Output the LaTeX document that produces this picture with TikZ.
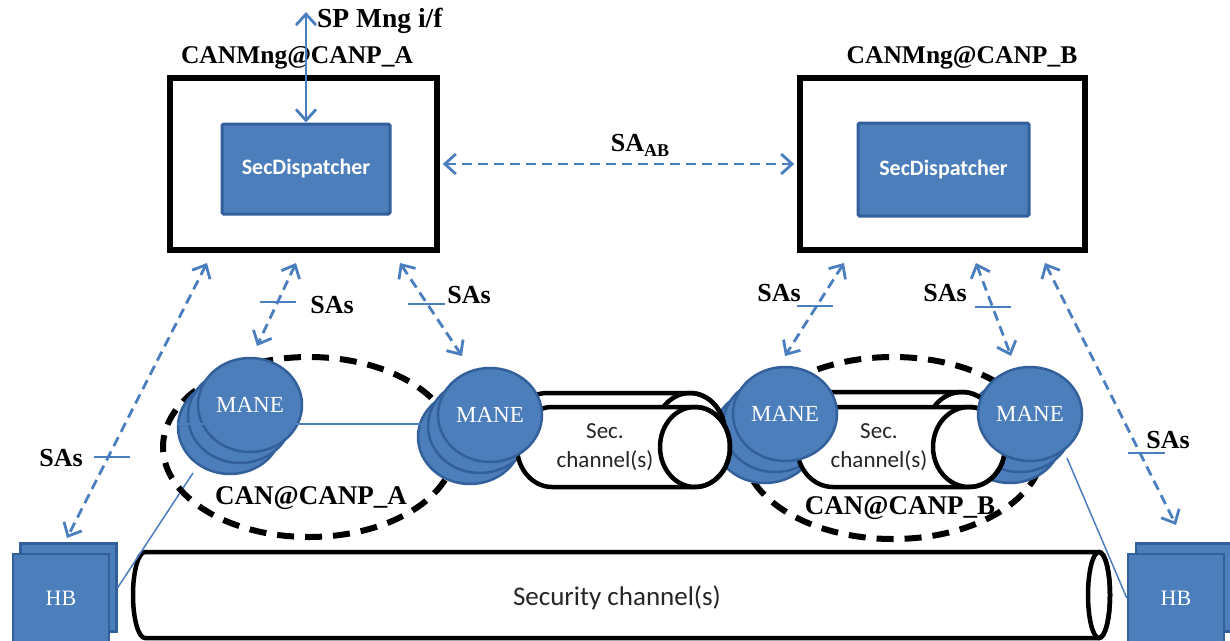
\documentclass[tikz,border=0pt]{standalone}
\usepackage{fontspec}
\setmainfont{Liberation Serif}
\newfontfamily\carl{Carlito}
\usetikzlibrary{arrows.meta,shapes.geometric}
\definecolor{bfill}{HTML}{4B7EBB}
\definecolor{bdraw}{HTML}{33609A}
\definecolor{aline}{HTML}{4A7EBE}
\begin{document}
\begin{tikzpicture}[x=1pt,y=-1pt,
  >={Straight Barb[length=11pt,width=20pt]},
  lbl/.style={font=\fontsize{26}{28}\selectfont\bfseries, inner sep=0pt},
  canlbl/.style={font=\fontsize{27}{30}\selectfont\bfseries, inner sep=0pt},
  mgrbox/.style={draw=black, line width=5.5pt, fill=white, inner sep=0pt},
  dispbox/.style={draw=bdraw, line width=3pt, fill=bfill, text=white, rounded corners=1.5pt, inner sep=0pt,
    font=\carl\bfseries\fontsize{22}{24}\selectfont},
  manebk/.style={ellipse, draw=bdraw, line width=2.5pt, fill=bfill, minimum width=104pt, minimum height=94pt, inner sep=0pt},
  mane/.style={manebk, text=white, font=\fontsize{23}{24}\selectfont},
  hb/.style={draw=bdraw, line width=2.5pt, fill=bfill, minimum width=96pt, minimum height=88pt, inner sep=0pt,
    text=white, font=\fontsize{22}{23}\selectfont},
  saarrow/.style={draw=aline, line width=2.8pt, dash pattern=on 10pt off 6pt, <->},
  solidarrow/.style={draw=aline, line width=2.8pt, <->},
  tick/.style={draw=aline, line width=2pt},
  thinline/.style={draw=aline, line width=1.5pt},
  canell/.style={draw=black, line width=6pt, dash pattern=on 17pt off 11pt},
  cyl/.style={draw=black, line width=4.5pt, fill=white},
  cylend/.style={draw=black, line width=4.5pt},
  chtext/.style={inner sep=0pt, text=black!85, font=\carl\fontsize{23}{29}\selectfont, align=center}
]
\useasboundingbox (0,0) rectangle (1230,640);

% big security channel cylinder
\draw[cyl] (1099,552) -- (145,552) arc[start angle=90,end angle=270,x radius=12pt,y radius=43pt]
  -- (1099,638) arc[start angle=-90,end angle=90,x radius=11pt,y radius=43pt] -- cycle;
\draw[cylend] (1099,595) ellipse [x radius=11pt,y radius=43pt];
\node[chtext, font=\carl\fontsize{27}{30}\selectfont] (secch) at (617,598) {Security channel(s)};

% HB boxes
\node[hb] (hbLb) at (68.5,587.5) {};
\node[hb] (hbLf) at (61,598) {HB};
\node[hb] (hbRb) at (1184,587.5) {};
\node[hb] (hbRf) at (1176,598) {HB};

% thin links to HB
\coordinate (a1foot) at (193,473);
\coordinate (b2foot) at (1067,458);
\draw[thinline] (a1foot) -- (hbLb.east);
\draw[thinline] (b2foot) -- (hbRf.west);

% CAN dashed ellipses
\draw[canell] (309,447) ellipse [x radius=146pt, y radius=90pt];
\draw[canell] (893,448) ellipse [x radius=150pt, y radius=91pt];

% back circles of MANE stacks
\foreach \n/\x/\y in {A1/250/405, A2/490/415, B1/785/414, B2/1030/414} {
  \node[manebk] (m\n-c) at ({\x-20},{\y+22}) {};
  \node[manebk] (m\n-b) at ({\x-10},{\y+11}) {};
}

% Sec channel cylinders A
\draw[cyl] (690,393) -- (547,393) arc[start angle=90,end angle=270,x radius=35pt,y radius=40pt]
  -- (690,473) arc[start angle=-90,end angle=90,x radius=35pt,y radius=40pt] -- cycle;
\draw[cylend] (690,433) ellipse [x radius=35pt,y radius=40pt];
\draw[cyl] (695,407) -- (552,407) arc[start angle=90,end angle=270,x radius=35pt,y radius=40pt]
  -- (695,487) arc[start angle=-90,end angle=90,x radius=35pt,y radius=40pt] -- cycle;
\draw[cylend] (695,447) ellipse [x radius=35pt,y radius=40pt];
\node[chtext] (chA) at (605,447) {Sec.\\channel(s)};

% Sec channel cylinders B
\draw[cyl] (962,392) -- (826,392) arc[start angle=90,end angle=270,x radius=36pt,y radius=40pt]
  -- (962,472) arc[start angle=-90,end angle=90,x radius=36pt,y radius=40pt] -- cycle;
\draw[cylend] (962,432) ellipse [x radius=36pt,y radius=40pt];
\draw[cyl] (969,407) -- (833,407) arc[start angle=90,end angle=270,x radius=36pt,y radius=40pt]
  -- (969,487) arc[start angle=-90,end angle=90,x radius=36pt,y radius=40pt] -- cycle;
\draw[cylend] (969,447) ellipse [x radius=36pt,y radius=40pt];
\node[chtext] (chB) at (879,447) {Sec.\\channel(s)};

% front MANE circles
\node[mane] (mA1) at (250,405) {MANE};
\node[mane] (mA2) at (490,415) {MANE};
\node[mane] (mB1) at (785,414) {MANE};
\node[mane] (mB2) at (1030,414) {MANE};

% link between MANEs of CAN A
\coordinate (lnA) at (177,424);
\coordinate (lnB) at (427,424);
\draw[thinline] (lnA) -- (lnB);

% CAN labels
\node[canlbl] (canA) at (311,498) {CAN@CANP\_A};
\node[canlbl] (canB) at (900,508) {CAN@CANP\_B};

% manager boxes
\node[mgrbox, minimum width=267pt, minimum height=172pt] (mgrA) at (303.5,164) {};
\node[mgrbox, minimum width=285pt, minimum height=172pt] (mgrB) at (942.5,164) {};
\node[dispbox, minimum width=168pt, minimum height=90pt] (dispA) at (306,169) {SecDispatcher};
\node[dispbox, minimum width=171pt, minimum height=93pt] (dispB) at (943.5,169.5) {SecDispatcher};
\node[lbl, font=\fontsize{25.5}{28}\selectfont\bfseries] (titA) at (297,58) {CANMng@CANP\_A};
\node[lbl, font=\fontsize{25.5}{28}\selectfont\bfseries] (titB) at (962,58) {CANMng@CANP\_B};

% SP Mng interface
\coordinate (spTop) at (306,12);
\draw[solidarrow] (spTop) -- (dispA.north);
\node[lbl, font=\fontsize{27.5}{28}\selectfont\bfseries, anchor=west] (spmng) at (317,21) {SP Mng i/f};

% SA_AB
\draw[saarrow] ([xshift=3pt]mgrA.east) -- ([xshift=-3pt]mgrB.west);
\node[lbl] (saab) at (640,145) {SA\raisebox{-5pt}{\fontsize{18}{18}\selectfont AB}};

% SAs arrows
\coordinate (a1s) at (207,263); \coordinate (a1e) at (67,538);
\coordinate (a2s) at (296,263); \coordinate (a2e) at (257,346);
\coordinate (a3s) at (400,263); \coordinate (a3e) at (462,356);
\coordinate (b1s) at (844,263); \coordinate (b1e) at (785,356);
\coordinate (b2s) at (976,263); \coordinate (b2e) at (1011,356);
\coordinate (b3s) at (1045,263); \coordinate (b3e) at (1176,525);
\draw[saarrow] (a1s) -- (a1e);
\draw[saarrow] (a2s) -- (a2e);
\draw[saarrow] (a3s) -- (a3e);
\draw[saarrow] (b1s) -- (b1e);
\draw[saarrow] (b2s) -- (b2e);
\draw[saarrow] (b3s) -- (b3e);

% ticks
\draw[tick] (94,457) -- (130,457);
\draw[tick] (260,302) -- (296,302);
\draw[tick] (408,304) -- (445,304);
\draw[tick] (797,306) -- (833,306);
\draw[tick] (975,307) -- (1011,307);
\draw[tick] (1128,453) -- (1165,453);

% SAs labels
\node[lbl] (sas1) at (61,458) {SAs};
\node[lbl] (sas2) at (332,305) {SAs};
\node[lbl] (sas3) at (469,295) {SAs};
\node[lbl] (sas4) at (779,293) {SAs};
\node[lbl] (sas5) at (945,293) {SAs};
\node[lbl] (sas6) at (1168,440) {SAs};
\end{tikzpicture}
\end{document}
